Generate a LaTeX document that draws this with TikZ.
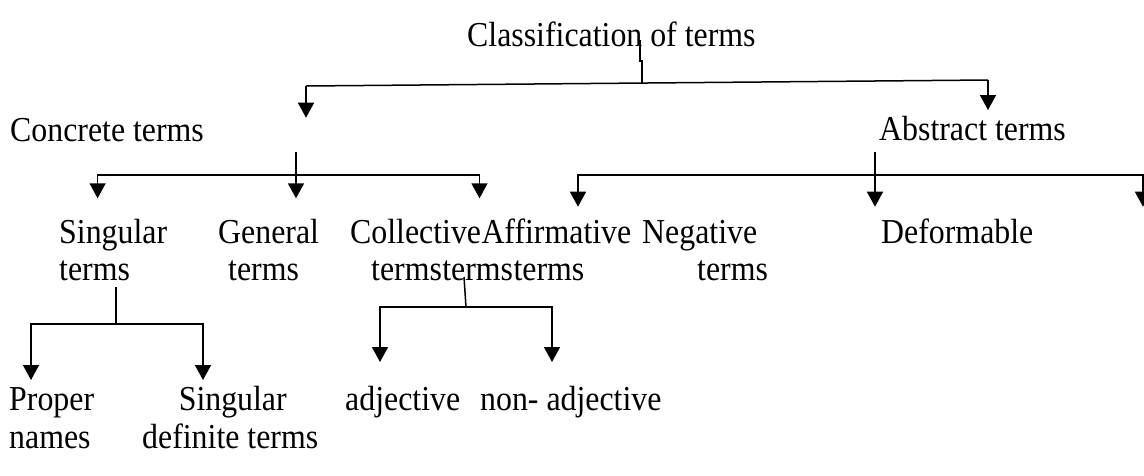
\documentclass[tikz,border=0pt]{standalone}
\usepackage{fontspec}
\setmainfont[FakeStretch=0.91]{Liberation Serif}
\usetikzlibrary{arrows.meta}
\begin{document}
\begin{tikzpicture}[x=1pt,y=-1pt,
  lbl/.style={anchor=base west,inner sep=0pt,font=\fontsize{35}{38}\selectfont},
  conn/.style={line width=1.5pt},
  arr/.style={conn,-{Triangle[width=16pt,length=15pt]}}]
\useasboundingbox (0,0) rectangle (1144,475);

% texts
\node[lbl] (title) at (467,46) {Classification of terms};
\node[lbl] (concrete) at (10,141) {Concrete terms};
\node[lbl] (abstract) at (879,140.5) {Abstract terms};
\node[lbl] (singular1) at (59,243) {Singular};
\node[lbl] (singular2) at (59,280) {terms};
\node[lbl] (general1) at (218,243) {General};
\node[lbl] (general2) at (228,280) {terms};
\node[lbl] (collective1) at (350,243) {Collective};
\node[lbl] (affirmative1) at (collective1.base east) {Affirmative};
\node[lbl] (negative1) at (642,243) {Negative};
\node[lbl] (deformable) at (881,243) {Deformable};
\node[lbl] (collective2) at (371,280) {terms};
\node[lbl] (affirmative2) at (collective2.base east) {terms};
\node[lbl] (extra2) at (affirmative2.base east) {terms};
\node[lbl] (negative2) at (697,280) {terms};
\node[lbl] (proper1) at (9,410) {Proper};
\node[lbl] (proper2) at (9,448) {names};
\node[lbl] (sdef1) at (178.6,410) {Singular};
\node[lbl] (sdef2) at (142,448) {definite terms};
\node[lbl] (adj) at (345,410) {adjective};
\node[lbl] (nonadj) at (480,410) {non- adjective};

% coordinates
\coordinate (t0) at (640,40);
\coordinate (t1) at (640,61);
\coordinate (t2) at (642,61);
\coordinate (t3) at (642,83);
\coordinate (tbL) at (306,86);
\coordinate (tbR) at (988,80);
\coordinate (concTip) at (306,117.7);
\coordinate (absTip) at (988,110);

\coordinate (cstem) at (296,151.7);
\coordinate (cbus) at (296,175);
\coordinate (singTip) at (97.6,198.3);
\coordinate (genTip) at (296,198.3);
\coordinate (collTip) at (479.5,198.3);

\coordinate (astem) at (875,151.7);
\coordinate (abus) at (875,175);
\coordinate (affTip) at (578,206.7);
\coordinate (defTip) at (875,206.7);
\coordinate (edgeTip) at (1143,206.7);

\coordinate (sstem) at (116,287);
\coordinate (sbus) at (116,324);
\coordinate (propTip) at (31,380);
\coordinate (sdefTip) at (203,380);

\coordinate (kstem) at (464,277);
\coordinate (kbus) at (466,307);
\coordinate (adjTip) at (380,362);
\coordinate (nonTip) at (552,362);

% connectors
\draw[conn] (t0) -- (t1) -- (t2) -- (t3);
\draw[conn] (tbL) -- (tbR);
\draw[arr] (tbL) -- (concTip);
\draw[arr] (tbR) -- (absTip);

\draw[arr] (cstem) -- (genTip);
\draw[arr] (cbus) -| (singTip);
\draw[arr] (cbus) -| (collTip);

\draw[arr] (astem) -- (defTip);
\draw[arr] (abus) -| (affTip);
\draw[arr] (abus) -| (edgeTip);

\draw[conn] (sstem) -- (sbus);
\draw[arr] (sbus) -| (propTip);
\draw[arr] (sbus) -| (sdefTip);

\draw[conn] (kstem) -- (kbus);
\draw[arr] (kbus) -| (adjTip);
\draw[arr] (kbus) -| (nonTip);
\end{tikzpicture}
\end{document}
